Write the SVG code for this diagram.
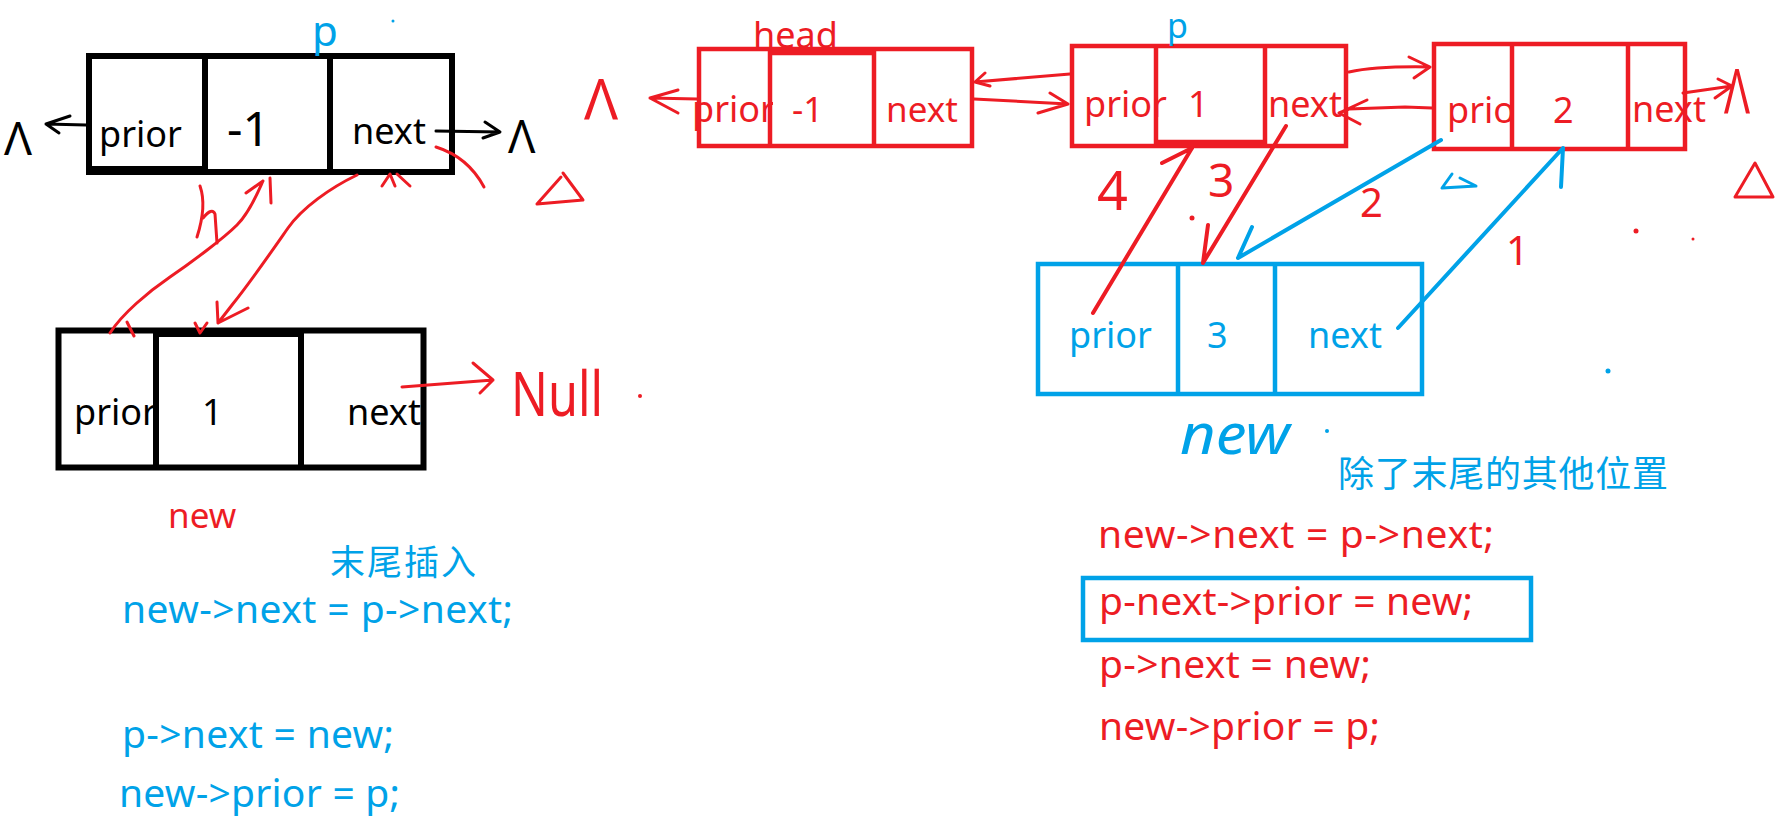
<svg xmlns="http://www.w3.org/2000/svg" width="1782" height="837" viewBox="0 0 1782 837">
<style>
  text { font-family: "Noto Sans", "Noto Sans CJK SC", sans-serif; }
  .k { fill: #000; }
  .r { fill: #ED1C24; }
  .b { fill: #00A2E8; }
  .boxk { fill: none; stroke: #000; stroke-width: 6; }
  .boxr { fill: none; stroke: #ED1C24; stroke-width: 4.5; }
  .boxb { fill: none; stroke: #00A2E8; stroke-width: 4.5; }
  .ik { fill: none; stroke: #000; stroke-width: 3; stroke-linecap: round; stroke-linejoin: round; }
  .ir { fill: none; stroke: #ED1C24; stroke-width: 3; stroke-linecap: round; stroke-linejoin: round; }
  .ib { fill: none; stroke: #00A2E8; stroke-width: 3; stroke-linecap: round; stroke-linejoin: round; }
  .thick { stroke-width: 4; }
  .cell { font-size: 36px; }
  .code { font-size: 39px; }
  .cjk { font-size: 35px; }
</style>
<rect width="1782" height="837" fill="#fff"/>

<!-- Node A (black, top-left) -->
<g id="nodeA">
  <text class="k cell" x="99" y="147">prior</text>
  <text class="k" x="227" y="146" font-size="48">-1</text>
  <text class="k cell" x="352" y="144">next</text>
  <rect class="boxk" x="89" y="56" width="363" height="116"/>
  <rect x="86" y="166" width="122" height="9" fill="#000"/>
  <line class="boxk" x1="205" y1="53" x2="205" y2="175"/>
  <line class="boxk" x1="330" y1="53" x2="330" y2="175" stroke-width="5"/>
</g>

<!-- Node B (black, new) -->
<g id="nodeB">
  <text class="k cell" x="74" y="425">prior</text>
  <rect x="159" y="337" width="140" height="126" fill="#fff"/>
  <text class="k cell" x="202" y="425">1</text>
  <text class="k cell" x="347" y="425">next</text>
  <rect class="boxk" x="58.5" y="330.5" width="365" height="137" stroke-width="5"/>
  <rect x="154" y="328" width="150" height="9" fill="#000"/>
  <line class="boxk" x1="156" y1="328" x2="156" y2="470" stroke-width="5"/>
  <line class="boxk" x1="301" y1="328" x2="301" y2="470" stroke-width="5"/>
</g>

<!-- head node (red) -->
<g id="head">
  <text class="r" x="753" y="48" font-size="36">head</text>
  <text class="r cell" x="692" y="122" font-size="35">prior</text>
  <rect x="773" y="53" width="98" height="90" fill="#fff"/>
  <text class="r" x="792" y="122" font-size="35">-1</text>
  <text class="r" x="886" y="122" font-size="35">next</text>
  <rect class="boxr" x="699" y="49" width="273" height="97"/>
  <line class="boxr" x1="770" y1="47" x2="770" y2="148"/>
  <line class="boxr" x1="874" y1="47" x2="874" y2="148"/>
  <line class="boxr" x1="770" y1="53" x2="874" y2="53"/>
</g>

<!-- node 1 (red) -->
<g id="node1">
  <text class="r cell" x="1084" y="117">prior</text>
  <text class="r cell" x="1188" y="117">1</text>
  <text class="r cell" x="1268" y="117">next</text>
  <rect class="boxr" x="1072" y="46" width="274" height="100"/>
  <line class="boxr" x1="1156" y1="44" x2="1156" y2="148"/>
  <line class="boxr" x1="1265" y1="44" x2="1265" y2="148"/>
  <line class="boxr" x1="1156" y1="142" x2="1265" y2="142"/>
</g>

<!-- node 2 (red) -->
<g id="node2">
  <text class="r cell" x="1447" y="123">prior</text>
  <rect x="1514" y="48" width="112" height="98" fill="#fff"/>
  <text class="r cell" x="1553" y="123">2</text>
  <text class="r cell" x="1632" y="122">next</text>
  <rect class="boxr" x="1434" y="44" width="251" height="105"/>
  <line class="boxr" x1="1512" y1="42" x2="1512" y2="151"/>
  <line class="boxr" x1="1628" y1="42" x2="1628" y2="151"/>
</g>

<!-- new node (blue) -->
<g id="nodeNew">
  <text class="b cell" x="1069" y="348">prior</text>
  <text class="b cell" x="1207" y="348">3</text>
  <text class="b cell" x="1308" y="348">next</text>
  <rect class="boxb" x="1038" y="264" width="384" height="130"/>
  <line class="boxb" x1="1178" y1="262" x2="1178" y2="396"/>
  <line class="boxb" x1="1275" y1="262" x2="1275" y2="396"/>
</g>

<!-- connectors -->
<g id="connectors">
  <path class="ik" d="M86,125 L46,124 M70,116 L46,124 L59,133"/>
  <path class="ik" d="M436,131 L500,132 M485,122 L500,132 L483,138"/>
  <path class="ir" d="M110,333 C122,314 148,292 170,277 S224,238 237,225 S258,192 263,181 M246,193 L263,181"/>
  <path class="ir" d="M270,178 L271,203"/>
  <path class="ir" d="M200,186 Q207,206 197,237 M203,218 Q212,207 215,214 L217,243"/>
  <path class="ir" d="M127,322 L134,336"/>
  <path class="ir" d="M357,175 C330,188 302,208 288,228 S252,280 232,305 L218,323 M217,302 L218,323 L248,308"/>
  <path class="ir" d="M195,323 L200,333 L207,323"/>
  <path class="ir" d="M382,186 L390,174 L395,186 M397,174 L410,186"/>
  <path class="ir" d="M436,147 Q468,157 484,187"/>
  <path class="ir" d="M537,204 L561,177 M563,173 L583,200 L537,204"/>
  <path class="ir" d="M402,387 L493,380 M473,363 L493,380 L480,393"/>
  <path class="ir" d="M697,99 L650,98 M678,90 L650,98 L678,113"/>
  <path class="ir" d="M1070,74 L975,82 M985,73 L975,82 L990,86"/>
  <path class="ir" d="M974,99 L1068,104 M1050,93 L1068,104 L1038,113"/>
  <path class="ir" d="M1349,72 Q1377,66 1430,67 M1409,57 L1430,67 L1414,78"/>
  <path class="ir" d="M1432,108 L1405,107 L1349,109 L1339,113 M1367,100 L1339,113 L1360,124"/>
  <path class="ir" d="M1683,93 L1732,86 M1718,79 L1732,86 L1715,98"/>
  <path class="ir thick" d="M1093,313 L1192,148 M1162,163 L1192,148"/>
  <path class="ir thick" d="M1286,126 L1203,263 M1208,225 L1203,263"/>
  <path class="ib thick" d="M1441,140 L1238,258 M1252,227 L1238,258"/>
  <path class="ib thick" d="M1398,328 L1563,148 M1561,187 L1563,148"/>
  <path class="ir" d="M1735,197 L1755,163 L1773,197 Z"/>
  <path class="ib" d="M1452,174 L1442,188 L1476,186 L1460,178"/>
</g>

<!-- handwritten labels and marks -->
<g id="labels">
  <text class="b" x="312" y="46" font-size="42">p</text>
  <text class="b" x="1167" y="38" font-size="34">p</text>
  <text class="k" x="4" y="155" font-size="46">Λ</text>
  <text class="k" x="508" y="153" font-size="45">Λ</text>
  <text class="r" x="584" y="120" font-size="56">Λ</text>
  <text class="r" x="1724" y="113" font-size="62" textLength="26" lengthAdjust="spacingAndGlyphs">Λ</text>
  <text class="r" x="511" y="416" font-size="62" textLength="92" lengthAdjust="spacingAndGlyphs">Null</text>
  <text class="r" x="168" y="528" font-size="35">new</text>
  <text class="b" x="1180" y="454" font-size="56" font-style="italic" textLength="110" lengthAdjust="spacingAndGlyphs">new</text>
  <text class="r" x="1097" y="210" font-size="54">4</text>
  <text class="r" x="1208" y="197" font-size="46">3</text>
  <text class="r" x="1360" y="217" font-size="40">2</text>
  <text class="r" x="1506" y="265" font-size="40">1</text>
  <circle class="b" cx="393" cy="21" r="1.5"/>
  <circle class="r" cx="640" cy="396" r="2"/>
  <circle class="r" cx="1192" cy="218" r="2.5"/>
  <circle class="r" cx="1636" cy="231" r="2.5"/>
  <circle class="r" cx="1693" cy="239" r="1.5"/>
  <circle class="b" cx="1327" cy="431" r="2"/>
  <circle class="b" cx="1608" cy="371" r="2.5"/>
</g>

<!-- code: tail insertion -->
<g id="codeTail">
  <text class="b cjk" x="330" y="575" textLength="146">末尾插入</text>
  <text class="b code" x="122" y="623" textLength="391">new-&gt;next = p-&gt;next;</text>
  <text class="b code" x="122" y="748" textLength="272">p-&gt;next = new;</text>
  <text class="b code" x="119" y="807" textLength="281">new-&gt;prior = p;</text>
</g>

<!-- code: other positions -->
<g id="codeOther">
  <text class="b" x="1338" y="487" font-size="36" textLength="330">除了末尾的其他位置</text>
  <text class="r code" x="1098" y="548" textLength="396">new-&gt;next = p-&gt;next;</text>
  <rect class="boxb" x="1083" y="578" width="448" height="62" stroke-width="4"/>
  <text class="r code" x="1099" y="615" textLength="374">p-next-&gt;prior = new;</text>
  <text class="r code" x="1099" y="678" textLength="272">p-&gt;next = new;</text>
  <text class="r code" x="1099" y="740" textLength="281">new-&gt;prior = p;</text>
</g>
</svg>
